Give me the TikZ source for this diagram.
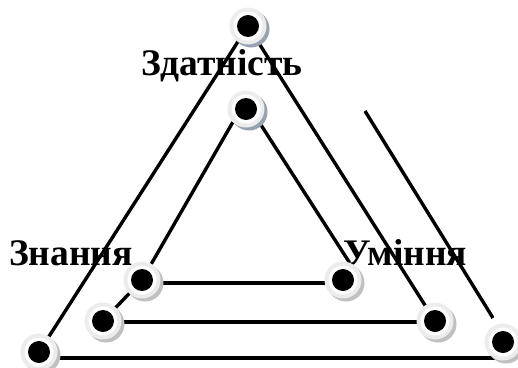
\documentclass[tikz,border=0pt]{standalone}
\usepackage{fontspec}
\setmainfont{Liberation Serif}
\usetikzlibrary{shadows}
\definecolor{shadowblue}{RGB}{150,162,178}
\definecolor{shadowgray}{RGB}{192,192,192}
\definecolor{ringgray}{RGB}{236,236,236}
\pgfdeclarelayer{textlayer}
\pgfdeclarelayer{linelayer}
\pgfsetlayers{textlayer,linelayer,main}
\tikzset{
  dot/.style={circle, minimum size=37pt, inner sep=0pt, fill=ringgray,
    drop shadow={shadow xshift=3pt, shadow yshift=-3pt, fill=#1, opacity=1},
    path picture={
      \fill[white] (path picture bounding box.center) circle (14.5pt);
      \fill[black] (path picture bounding box.center) circle (11pt);
    }},
  dot/.default=shadowgray,
  conn/.style={line width=3.4pt, black},
  lbl/.style={font=\bfseries\fontsize{37.5}{37.5}\selectfont, anchor=base, inner sep=0pt}
}
\begin{document}
\begin{tikzpicture}[x=1pt, y=-1pt]
\useasboundingbox (0,0) rectangle (518,367);
\node[dot=shadowblue] (T1) at (248,26) {};
\node[dot=shadowblue] (T2) at (246,109) {};
\node[dot] (L2) at (142,280) {};
\node[dot] (R2) at (343,280) {};
\node[dot] (L3) at (103,321) {};
\node[dot] (R3) at (435,321) {};
\node[dot] (L1) at (39,352) {};
\node[dot] (R1) at (503,342) {};
\coordinate (B1) at (39,358);
\coordinate (B2) at (497,358);
\coordinate (S1) at (365,111);
\coordinate (S2) at (493,318);
\begin{pgfonlayer}{textlayer}
\fill[white] (0,0) rectangle (518,367);
\node[lbl] (zd) at (222,75) {Здатність};
\node[lbl] (zn) at (71,265) {Знання};
\node[lbl] (um) at (405,265) {Уміння};
\end{pgfonlayer}
\begin{pgfonlayer}{linelayer}
\draw[conn] (T1.center) -- (L1.center);
\draw[conn] (T1.center) -- (R3.center);
\draw[conn] (T2.-135) -- (L2.60);
\draw[conn] (T2.-45) -- (R2.70);
\draw[conn] ([yshift=-3pt]L2.center) -- ([yshift=-3pt]R2.center);
\draw[conn] (L2.center) -- (L3.center);
\draw[conn] ([yshift=-1pt]L3.center) -- ([yshift=-1pt]R3.center);
\draw[conn] (B1) -- (B2);
\draw[conn] (S1) -- (S2);
\end{pgfonlayer}
\end{tikzpicture}
\end{document}
